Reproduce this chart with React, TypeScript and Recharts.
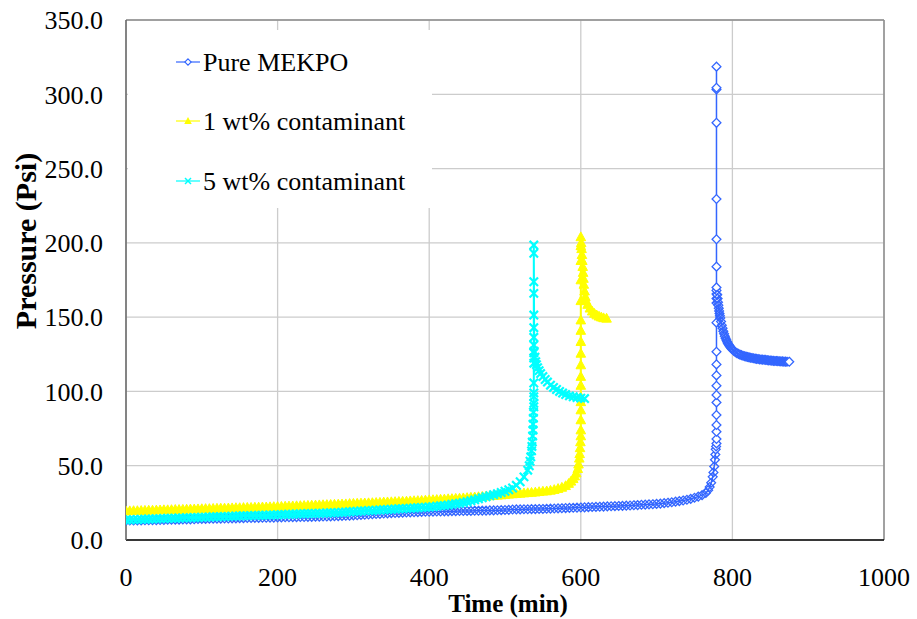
import React from 'react';
import { ScatterChart, Scatter, XAxis, YAxis, CartesianGrid, ReferenceLine } from 'recharts';

type Pt = [number, number];

// Axis ticks
const timeTicks = [0, 200, 400, 600, 800, 1000];
const pressureTicks = [0, 50, 100, 150, 200, 250, 300, 350];

// Series names
const seriesNames = ['Pure MEKPO', '1 wt% contaminant', '5 wt% contaminant'];

// Pure MEKPO: [time (min), pressure (psi)]
const pureMekpo: Pt[] = [
  [0, 13.0], [5, 13.1], [10, 13.1], [15, 13.2], [20, 13.2], [25, 13.3], [30, 13.3], [35, 13.4], [40, 13.4], [45, 13.5],
  [50, 13.5], [55, 13.6], [60, 13.6], [65, 13.7], [70, 13.7], [75, 13.8], [80, 13.9], [85, 13.9], [90, 14.0], [95, 14.1],
  [100, 14.2], [105, 14.2], [110, 14.3], [115, 14.3], [120, 14.4], [125, 14.4], [130, 14.5], [135, 14.5], [140, 14.6], [145, 14.6],
  [150, 14.7], [155, 14.7], [160, 14.8], [165, 14.8], [170, 14.9], [175, 14.9], [180, 15.0], [185, 15.0], [190, 15.1], [195, 15.1],
  [200, 15.2], [205, 15.2], [210, 15.3], [215, 15.3], [220, 15.4], [225, 15.4], [230, 15.5], [235, 15.5], [240, 15.6], [245, 15.6],
  [250, 15.7], [255, 15.7], [260, 15.8], [265, 15.8], [270, 15.9], [275, 16.0], [280, 16.1], [285, 16.2], [290, 16.3], [295, 16.4],
  [300, 16.6], [305, 16.7], [310, 16.9], [315, 17.0], [320, 17.2], [325, 17.3], [330, 17.5], [335, 17.6], [340, 17.8], [345, 17.9],
  [350, 18.1], [355, 18.2], [360, 18.3], [365, 18.4], [370, 18.5], [375, 18.6], [380, 18.7], [385, 18.8], [390, 18.9], [395, 19.0],
  [400, 19.0], [405, 19.1], [410, 19.2], [415, 19.2], [420, 19.3], [425, 19.3], [430, 19.4], [435, 19.4], [440, 19.5], [445, 19.5],
  [450, 19.6], [455, 19.6], [460, 19.7], [465, 19.7], [470, 19.8], [475, 19.8], [480, 19.9], [485, 19.9], [490, 20.0], [495, 20.1],
  [500, 20.2], [505, 20.3], [510, 20.5], [515, 20.6], [520, 20.6], [525, 20.7], [530, 20.7], [535, 20.8], [540, 20.8], [545, 20.9],
  [550, 20.9], [555, 21.0], [560, 21.1], [565, 21.2], [570, 21.3], [575, 21.4], [580, 21.5], [585, 21.6], [590, 21.7], [595, 21.8],
  [600, 21.9], [605, 22.0], [610, 22.1], [615, 22.2], [620, 22.3], [625, 22.4], [630, 22.5], [635, 22.6], [640, 22.7], [645, 22.8],
  [650, 22.9], [655, 23.0], [660, 23.1], [665, 23.2], [670, 23.4], [675, 23.5], [680, 23.7], [685, 23.8], [690, 24.0], [695, 24.1],
  [700, 24.3], [705, 24.5], [710, 24.8], [715, 25.1], [720, 25.4], [725, 25.8], [730, 26.2], [735, 26.6], [740, 27.1], [745, 27.7],
  [750, 28.4], [755, 29.2], [760, 30.2], [765, 31.6], [768, 33.5], [770, 35.7], [772, 38.5], [774, 42.5], [775, 45.5], [776, 49.5],
  [777, 54], [777.5, 57.5], [778, 61], [778.5, 63], [779, 65], [779, 68], [779, 72.9], [779, 77.4], [779, 84.1], [779, 92.6],
  [779, 97.6], [779, 103.8], [779, 110.8], [779, 118.2], [779, 126.7], [779, 146.3], [779, 159.5], [779, 162.5], [779, 165.5], [779, 168],
  [779, 184], [779, 202.4], [779, 229.5], [779, 280.8], [779, 303.3], [779, 318.6], [779, 304.4], [779, 170],
  [780, 165], [780.5, 162.5], [781, 160], [781.5, 158], [782, 156], [782.5, 154.2], [783, 152.5], [783.5, 151], [784, 149.5], [785, 147],
  [786, 144.5], [787, 142.5], [788, 140.5], [789, 138.8], [790, 137.2], [791, 135.8], [792, 134.6], [793, 133.5], [794, 132.5], [795, 131.6],
  [796, 130.8], [797, 130.1], [798, 129.4], [799, 128.8], [800, 128.2], [802, 127.2], [804, 126.4], [806, 125.8], [808, 125.3], [810, 124.8],
  [812, 124.4], [814, 124.0], [816, 123.7], [818, 123.4], [820, 123.2], [822, 122.9], [824, 122.7], [826, 122.5], [828, 122.3], [830, 122.1],
  [832, 121.9], [834, 121.8], [836, 121.6], [838, 121.5], [840, 121.4], [842, 121.3], [844, 121.2], [846, 121.0], [848, 120.9], [850, 120.8],
  [852, 120.7], [854, 120.6], [856, 120.5], [858, 120.5], [860, 120.4], [862, 120.3], [864, 120.2], [866, 120.2], [868, 120.1], [870, 120.1],
  [872, 120.0], [875, 120.0],
];

// 1 wt% contaminant: [time (min), pressure (psi)]
const contaminant1: Pt[] = [
  [0, 19.5], [5, 19.6], [10, 19.7], [15, 19.7], [20, 19.8], [25, 19.9], [30, 20.0], [35, 20.0], [40, 20.1], [45, 20.2],
  [50, 20.3], [55, 20.3], [60, 20.4], [65, 20.5], [70, 20.5], [75, 20.6], [80, 20.7], [85, 20.8], [90, 20.8], [95, 20.9],
  [100, 21.0], [105, 21.1], [110, 21.1], [115, 21.2], [120, 21.3], [125, 21.4], [130, 21.4], [135, 21.5], [140, 21.6], [145, 21.7],
  [150, 21.7], [155, 21.8], [160, 21.9], [165, 21.9], [170, 22.0], [175, 22.1], [180, 22.2], [185, 22.2], [190, 22.3], [195, 22.4],
  [200, 22.5], [205, 22.6], [210, 22.7], [215, 22.8], [220, 22.9], [225, 23.0], [230, 23.1], [235, 23.2], [240, 23.3], [245, 23.4],
  [250, 23.5], [255, 23.6], [260, 23.7], [265, 23.8], [270, 23.9], [275, 24.0], [280, 24.1], [285, 24.2], [290, 24.3], [295, 24.5],
  [300, 24.6], [305, 24.7], [310, 24.8], [315, 24.9], [320, 25.0], [325, 25.1], [330, 25.2], [335, 25.3], [340, 25.5], [345, 25.6],
  [350, 25.7], [355, 25.8], [360, 25.9], [365, 26.0], [370, 26.1], [375, 26.3], [380, 26.4], [385, 26.5], [390, 26.6], [395, 26.8],
  [400, 27.0], [405, 27.1], [410, 27.2], [415, 27.4], [420, 27.5], [425, 27.7], [430, 27.8], [435, 28.0], [440, 28.1], [445, 28.3],
  [450, 28.5], [455, 28.7], [460, 28.9], [465, 29.1], [470, 29.3], [475, 29.5], [480, 29.7], [485, 29.9], [490, 30.1], [495, 30.3],
  [500, 30.6], [505, 30.8], [510, 31.0], [515, 31.2], [520, 31.4], [525, 31.6], [530, 31.8], [535, 32.0], [540, 32.2], [545, 32.5],
  [550, 32.8], [555, 33.0], [560, 33.4], [565, 33.9], [570, 34.6], [575, 35.4], [580, 36.5], [584, 38.0], [587, 39.5], [590, 41.2],
  [592, 43], [594, 45], [596, 48], [597, 51], [598, 55], [598.5, 58], [599, 62], [599.5, 66], [600, 70], [600, 74],
  [600, 80.8], [600, 87.5], [600, 93], [600, 96.4], [600, 104], [600, 110], [600, 117.8], [600, 125.6], [600, 133.5], [600, 141],
  [600, 148], [600, 161], [600, 175], [600, 188], [600, 198], [600, 204], [600.5, 200], [601, 196], [601.5, 192], [602, 188],
  [602.5, 184], [603, 180], [603.5, 176], [604, 172], [605, 167.5], [606, 163.7], [607, 161], [609, 158.5], [612, 156], [615, 154],
  [618, 152.5], [621, 151.4], [624, 150.6], [627, 150], [630, 149.5], [634, 149.2],
];

// 5 wt% contaminant: [time (min), pressure (psi)]
const contaminant5: Pt[] = [
  [0, 13.5], [5, 13.6], [10, 13.7], [15, 13.8], [20, 13.9], [25, 14.0], [30, 14.1], [35, 14.2], [40, 14.3], [45, 14.4],
  [50, 14.5], [55, 14.6], [60, 14.6], [65, 14.7], [70, 14.8], [75, 14.9], [80, 15.0], [85, 15.0], [90, 15.1], [95, 15.2],
  [100, 15.3], [105, 15.4], [110, 15.5], [115, 15.6], [120, 15.6], [125, 15.7], [130, 15.8], [135, 15.9], [140, 16.0], [145, 16.1],
  [150, 16.2], [155, 16.3], [160, 16.3], [165, 16.4], [170, 16.5], [175, 16.6], [180, 16.7], [185, 16.7], [190, 16.8], [195, 16.9],
  [200, 17.0], [205, 17.1], [210, 17.2], [215, 17.3], [220, 17.4], [225, 17.5], [230, 17.6], [235, 17.7], [240, 17.8], [245, 17.8],
  [250, 17.9], [255, 18.0], [260, 18.1], [265, 18.2], [270, 18.3], [275, 18.4], [280, 18.5], [285, 18.7], [290, 18.8], [295, 19.0],
  [300, 19.2], [305, 19.3], [310, 19.5], [315, 19.6], [320, 19.8], [325, 19.9], [330, 20.1], [335, 20.2], [340, 20.4], [345, 20.5],
  [350, 20.7], [355, 20.8], [360, 21.0], [365, 21.1], [370, 21.3], [375, 21.4], [380, 21.6], [385, 21.7], [390, 21.9], [395, 22.0],
  [400, 22.2], [405, 22.4], [410, 22.7], [415, 23.0], [420, 23.3], [425, 23.6], [430, 24.0], [435, 24.4], [440, 24.8], [445, 25.3],
  [450, 25.8], [455, 26.4], [460, 27.0], [465, 27.7], [470, 28.4], [475, 29.1], [480, 29.8], [485, 30.5], [490, 31.2], [495, 32.0],
  [500, 32.8], [505, 33.8], [510, 35.0], [515, 36.8], [520, 39.2], [525, 42.5], [530, 47.0], [532, 50], [533, 53], [534, 56],
  [535, 60], [535.5, 63], [536, 66], [536.5, 70], [537, 74], [537, 78], [537.5, 82], [537.5, 86], [538, 89.7], [538, 92],
  [538, 96.5], [538, 99], [538, 105.7], [538, 119], [538, 122.5], [538, 126], [538, 131.2], [538, 136.4], [538, 142.9], [538, 151.4],
  [538, 166], [538, 173.8], [538, 193], [538, 198.5], [538.5, 127], [539.5, 123], [540.5, 120], [541.5, 118], [543, 116], [545, 114],
  [547, 112], [550, 110], [553, 108], [556, 106.3], [560, 104.2], [564, 102.7], [568, 101.3], [572, 100], [576, 98.9], [580, 97.9],
  [585, 97.0], [590, 96.4], [595, 95.9], [600, 95.5], [605, 95.2],
];

const BLUE = '#3366FF';
const YELLOW = '#FFFF00';
const CYAN = '#00FFFF';
const FONT = '"Liberation Serif", "Times New Roman", serif';

const toRows = (pts: Pt[]) => pts.map(([t, p]) => ({ t, p }));

// Open diamond; `hollow` leaves the inside unpainted so packed markers read as a dense band
const DiamondMark = ({ cx, cy, hollow }: any) => {
  if (cx == null || cy == null) return null;
  const r = 4.4;
  return (
    <polygon
      points={`${cx},${cy - r} ${cx + r},${cy} ${cx},${cy + r} ${cx - r},${cy}`}
      fill={hollow ? 'none' : '#ffffff'}
      stroke={BLUE}
      strokeWidth={1.3}
    />
  );
};

const TriangleMark = ({ cx, cy }: any) => {
  if (cx == null || cy == null) return null;
  return (
    <polygon
      points={`${cx},${cy - 5} ${cx + 4.8},${cy + 3.8} ${cx - 4.8},${cy + 3.8}`}
      fill={YELLOW}
      stroke={YELLOW}
      strokeWidth={1}
    />
  );
};

const CrossMark = ({ cx, cy }: any) => {
  if (cx == null || cy == null) return null;
  const r = 4.2;
  return (
    <g stroke={CYAN} strokeWidth={2.2}>
      <line x1={cx - r} y1={cy - r} x2={cx + r} y2={cy + r} />
      <line x1={cx - r} y1={cy + r} x2={cx + r} y2={cy - r} />
    </g>
  );
};

const MekpoPoint = (props: any) => {
  const row = props.payload || props;
  const packed = row.p !== undefined && (row.p < 60 || (row.t >= 780 && row.t < 875));
  return <DiamondMark cx={props.cx} cy={props.cy} hollow={packed} />;
};

const legendRows = [
  { name: seriesNames[0], color: BLUE, y: 62, kind: 'diamond' },
  { name: seriesNames[1], color: YELLOW, y: 121, kind: 'triangle' },
  { name: seriesNames[2], color: CYAN, y: 181, kind: 'cross' },
];

const LegendMark = ({ kind, y }: { kind: string; y: number }) => {
  // smaller marker glyphs for the legend keys
  if (kind === 'diamond') {
    const r = 3.2;
    return (
      <polygon
        points={`188,${y - r} ${188 + r},${y} 188,${y + r} ${188 - r},${y}`}
        fill="#ffffff"
        stroke={BLUE}
        strokeWidth={1.1}
      />
    );
  }
  if (kind === 'triangle') {
    return <polygon points={`188,${y - 4} 191.8,${y + 3} 184.2,${y + 3}`} fill={YELLOW} />;
  }
  return (
    <g stroke={CYAN} strokeWidth={1.5}>
      <line x1={185} y1={y - 3} x2={191} y2={y + 3} />
      <line x1={185} y1={y + 3} x2={191} y2={y - 3} />
    </g>
  );
};

export default function App() {
  return (
    <div style={{ position: 'absolute', left: 0, top: 0, width: 917, height: 619, background: '#fff' }}>
      <ScatterChart width={917} height={619} margin={{ top: 20, right: 33, bottom: 0, left: 0 }}>
        <CartesianGrid stroke="#cccccc" strokeWidth={1.3} />
        <XAxis
          type="number"
          dataKey="t"
          domain={[0, 1000]}
          ticks={timeTicks}
          allowDataOverflow
          height={79}
          tickLine={false}
          axisLine={{ stroke: '#000000', strokeWidth: 1.5 }}
          tick={{ fill: '#000000', fontSize: 26, fontFamily: FONT }}
          tickMargin={22}
        />
        <YAxis
          type="number"
          dataKey="p"
          domain={[0, 350]}
          ticks={pressureTicks}
          allowDataOverflow
          width={126}
          tickLine={false}
          axisLine={{ stroke: '#666666', strokeWidth: 1.5 }}
          tick={{ fill: '#000000', fontSize: 26, fontFamily: FONT }}
          tickFormatter={(v: number) => v.toFixed(1)}
          tickMargin={17}
        />
        <ReferenceLine y={350} stroke="#8c8c8c" strokeWidth={1.5} />
        <ReferenceLine x={1000} stroke="#8c8c8c" strokeWidth={1.5} />
        <Scatter
          name={seriesNames[0]}
          data={toRows(pureMekpo)}
          line={{ stroke: BLUE, strokeWidth: 1.5 }}
          lineType="joint"
          shape={MekpoPoint}
          isAnimationActive={false}
        />
        <Scatter
          name={seriesNames[1]}
          data={toRows(contaminant1)}
          line={{ stroke: YELLOW, strokeWidth: 2 }}
          lineType="joint"
          shape={TriangleMark}
          isAnimationActive={false}
        />
        <Scatter
          name={seriesNames[2]}
          data={toRows(contaminant5)}
          line={{ stroke: CYAN, strokeWidth: 2 }}
          lineType="joint"
          shape={CrossMark}
          isAnimationActive={false}
        />
      </ScatterChart>
      <svg
        width={917}
        height={619}
        style={{ position: 'absolute', left: 0, top: 0, pointerEvents: 'none' }}
      >
        <rect x={128} y={30} width={304} height={178} fill="#ffffff" />
        {legendRows.map((r) => (
          <g key={r.name}>
            <line x1={176} x2={200} y1={r.y} y2={r.y} stroke={r.color} strokeWidth={1.2} />
            <LegendMark kind={r.kind} y={r.y} />
            <text x={203} y={r.y + 9} fontFamily={FONT} fontSize={26} fill="#000">
              {r.name}
            </text>
          </g>
        ))}
        <text
          x={508}
          y={612}
          textAnchor="middle"
          fontFamily={FONT}
          fontWeight="bold"
          fontSize={25}
          fill="#000"
        >
          Time (min)
        </text>
        <text
          transform="translate(25,241) rotate(-90)"
          textAnchor="middle"
          dominantBaseline="central"
          fontFamily={FONT}
          fontWeight="bold"
          fontSize={30}
          fill="#000"
        >
          Pressure (Psi)
        </text>
      </svg>
    </div>
  );
}
